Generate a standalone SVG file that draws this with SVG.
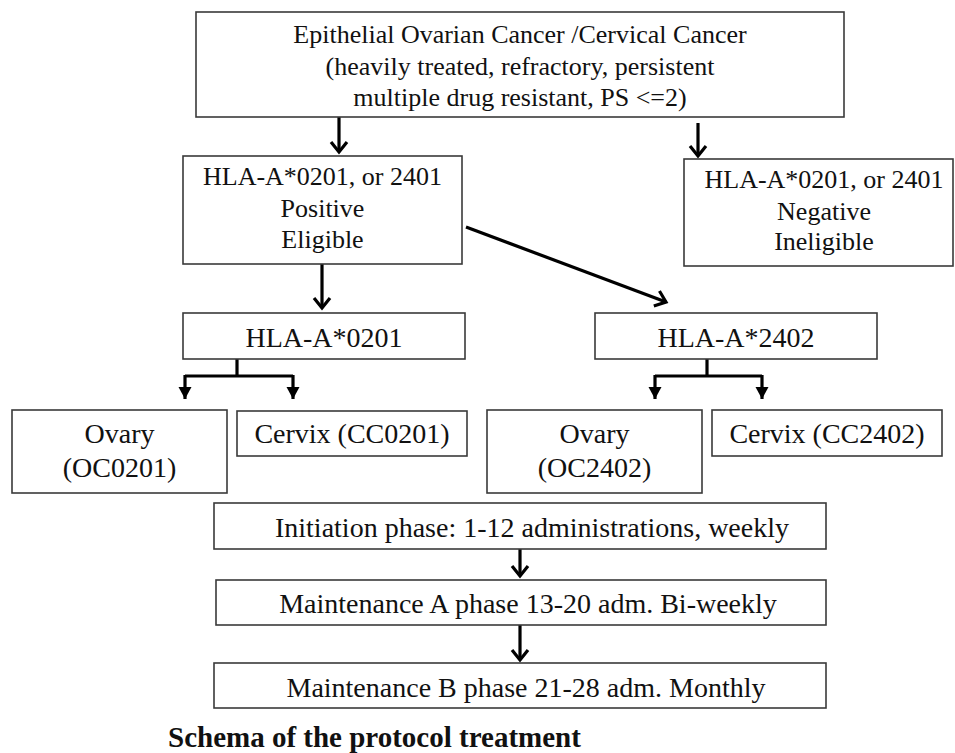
<svg xmlns="http://www.w3.org/2000/svg" width="955" height="753" viewBox="0 0 955 753">
<style>
.box{fill:#fff;stroke:#3a3a3a;stroke-width:1.6}
.t{font-family:"Liberation Serif","Times New Roman",serif;fill:#111;text-anchor:middle}
.s26{font-size:26px}
.s28{font-size:28px}
.con{stroke:#000;stroke-width:3.2;fill:none}
</style>
<defs>
<marker id="chev" markerUnits="userSpaceOnUse" viewBox="-14 -10 16 20" refX="0" refY="0" markerWidth="16" markerHeight="20" orient="auto" overflow="visible">
<path d="M-10,-8 L0,0 L-10,8" fill="none" stroke="#000" stroke-width="3.2" stroke-linejoin="miter"/>
</marker>
<marker id="tri" markerUnits="userSpaceOnUse" viewBox="-12 -7 12 14" refX="0" refY="0" markerWidth="12" markerHeight="14" orient="auto" overflow="visible">
<path d="M-12,-6.5 L0,0 L-12,6.5 Z" fill="#000"/>
</marker>
</defs>
<rect width="955" height="753" fill="#fff"/>

<g id="connectors">
<line class="con" x1="339" y1="117" x2="339" y2="152" marker-end="url(#chev)"/>
<line class="con" x1="698" y1="123" x2="698" y2="156" marker-end="url(#chev)"/>
<line class="con" x1="322" y1="264" x2="322" y2="308" marker-end="url(#chev)"/>
<line class="con" x1="466" y1="227" x2="666" y2="302" marker-end="url(#chev)"/>
<polyline class="con" points="237,359 237,376"/>
<polyline class="con" points="185,376 293,376"/>
<line class="con" x1="185" y1="375" x2="185" y2="399" marker-end="url(#tri)"/>
<line class="con" x1="293" y1="375" x2="293" y2="399" marker-end="url(#tri)"/>
<polyline class="con" points="707,359 707,376"/>
<polyline class="con" points="655,376 762,376"/>
<line class="con" x1="655" y1="375" x2="655" y2="399" marker-end="url(#tri)"/>
<line class="con" x1="762" y1="375" x2="762" y2="399" marker-end="url(#tri)"/>
<line class="con" x1="520" y1="549" x2="520" y2="576" marker-end="url(#chev)"/>
<line class="con" x1="520" y1="625" x2="520" y2="660" marker-end="url(#chev)"/>
</g>

<g id="n-top">
<rect class="box" x="196" y="12" width="648" height="105"/>
<text class="t s26" x="520" y="43">Epithelial Ovarian Cancer /Cervical Cancer</text>
<text class="t s26" x="520" y="75">(heavily treated, refractory, persistent</text>
<text class="t s26" x="520" y="106">multiple drug resistant, PS &lt;=2)</text>
</g>

<g id="n-positive">
<rect class="box" x="183" y="156" width="279" height="108"/>
<text class="t s26" x="322.5" y="185">HLA-A*0201, or 2401</text>
<text class="t s26" x="322.5" y="217">Positive</text>
<text class="t s26" x="322.5" y="248">Eligible</text>
</g>

<g id="n-negative">
<rect class="box" x="684" y="159" width="269" height="107"/>
<text class="t s26" x="824" y="188">HLA-A*0201, or 2401</text>
<text class="t s26" x="824" y="220">Negative</text>
<text class="t s26" x="824" y="250">Ineligible</text>
</g>

<g id="n-a0201">
<rect class="box" x="183" y="313" width="282" height="46"/>
<text class="t s28" x="324" y="347">HLA-A*0201</text>
</g>

<g id="n-a2402">
<rect class="box" x="595" y="313" width="282" height="46"/>
<text class="t s28" x="736" y="347">HLA-A*2402</text>
</g>

<g id="n-oc0201">
<rect class="box" x="12" y="410" width="215" height="83"/>
<text class="t s28" x="119.5" y="443">Ovary</text>
<text class="t s28" x="119.5" y="477">(OC0201)</text>
</g>

<g id="n-cc0201">
<rect class="box" x="237" y="411" width="230" height="45"/>
<text class="t s28" x="352" y="443">Cervix (CC0201)</text>
</g>

<g id="n-oc2402">
<rect class="box" x="487" y="410" width="215" height="83"/>
<text class="t s28" x="594.5" y="443">Ovary</text>
<text class="t s28" x="594.5" y="477">(OC2402)</text>
</g>

<g id="n-cc2402">
<rect class="box" x="712" y="410" width="230" height="46"/>
<text class="t s28" x="827" y="443">Cervix (CC2402)</text>
</g>

<g id="n-initiation">
<rect class="box" x="214" y="503" width="612" height="46"/>
<text class="t s28" x="532" y="537">Initiation phase:  1-12 administrations, weekly</text>
</g>

<g id="n-maintA">
<rect class="box" x="216" y="580" width="610" height="45"/>
<text class="t s28" x="528" y="613">Maintenance A phase 13-20 adm. Bi-weekly</text>
</g>

<g id="n-maintB">
<rect class="box" x="214" y="663" width="612" height="45"/>
<text class="t s28" x="526" y="697">Maintenance B phase 21-28 adm. Monthly</text>
</g>

<text x="168" y="747" style="font-family:'Liberation Serif','Times New Roman',serif;font-weight:bold;font-size:29px;fill:#111">Schema of the protocol treatment</text>
</svg>
